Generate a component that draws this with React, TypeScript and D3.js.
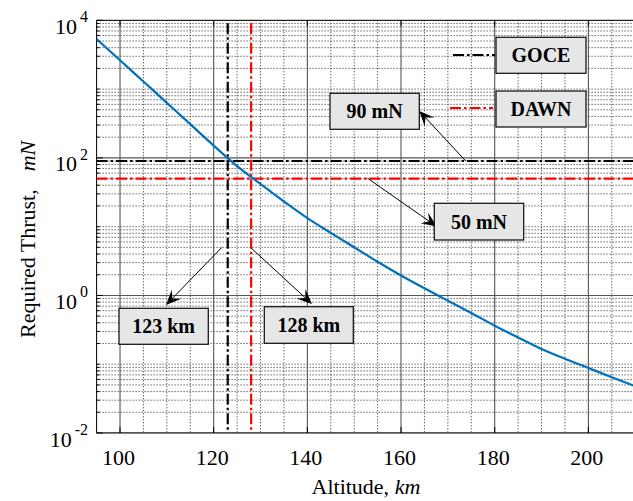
import React from "react";
import * as d3 from "d3";

// Required thrust vs. altitude
const ALTITUDE_KM = [95, 100, 105, 110, 115, 120, 125, 130, 135, 140, 145, 150, 155, 160, 165, 170, 175, 180, 185, 190, 195, 200, 205, 210];
const THRUST_MN = [5350, 2630, 1288, 631, 309, 151, 75.9, 41.7, 23.2, 13.3, 8.13, 5.01, 3.09, 1.95, 1.27, 0.841, 0.556, 0.363, 0.245, 0.167, 0.12, 0.0881, 0.0646, 0.0479];

const X_TICKS = [100, 120, 140, 160, 180, 200];
const Y_TICK_EXPONENTS = [-2, 0, 2, 4];

// Mission thrust limits and the matching altitudes
const MISSIONS = ["GOCE", "DAWN"];
const MISSION_THRUST_MN = [90, 50];
const MISSION_ALTITUDE_KM = [123, 128];
const MISSION_COLORS = ["#000000", "#ff0000"];

const W = 633;
const H = 501;
const M = { left: 96.6, top: 20.3, right: 635.2, bottom: 433 };

const FONT = "'Liberation Serif', 'Times New Roman', serif";
const BOX_FILL = "#e6e6e6";
const DASH_DOT = "11,3,2.5,3";

type Box = { x: number; y: number; w: number; h: number };

const Arrow = ({ x1, y1, x2, y2 }: { x1: number; y1: number; x2: number; y2: number }) => {
  const a = Math.atan2(y2 - y1, x2 - x1);
  const L = 15;
  const Wd = 6.5;
  const notch = 9;
  const cos = Math.cos(a);
  const sin = Math.sin(a);
  const pt = (dx: number, dy: number) => [x2 + dx * cos - dy * sin, y2 + dx * sin + dy * cos];
  const p1 = pt(-L, Wd);
  const p2 = pt(-notch, 0);
  const p3 = pt(-L, -Wd);
  return (
    <g>
      <line x1={x1} y1={y1} x2={p2[0]} y2={p2[1]} stroke="#000" strokeWidth={1} />
      <path d={`M${x2},${y2}L${p1[0]},${p1[1]}L${p2[0]},${p2[1]}L${p3[0]},${p3[1]}Z`} fill="#000" />
    </g>
  );
};

const LabelBox = ({ b, text }: { b: Box; text: string }) => (
  <g>
    <rect x={b.x} y={b.y} width={b.w} height={b.h} fill={BOX_FILL} stroke="#1a1a1a" strokeWidth={1.3} />
    <text
      x={b.x + b.w / 2}
      y={b.y + b.h / 2 + 7}
      textAnchor="middle"
      fontFamily={FONT}
      fontWeight="bold"
      fontSize={20}
      fill="#000"
    >
      {text}
    </text>
  </g>
);

export default function App() {
  const x = d3.scaleLinear().domain([95, 210]).range([M.left, M.right]);
  const y = d3.scaleLog().domain([1e-2, 1e4]).range([M.bottom, M.top]);

  const majorY = Y_TICK_EXPONENTS.map((e) => Math.pow(10, e));
  const minorY: number[] = [];
  for (let k = -2; k < 4; k++) {
    for (let n = 1; n <= 9; n++) {
      const v = n * Math.pow(10, k);
      if (!majorY.includes(v)) minorY.push(v);
    }
  }
  const minorX = d3.range(95, 211, 5).filter((v) => !X_TICKS.includes(v) && v > 95);

  const line = d3
    .line<number>()
    .x((_, i) => x(ALTITUDE_KM[i]))
    .y((d) => y(d))
    .curve(d3.curveMonotoneX);

  // label boxes and arrow ends for the annotations
  const legendBoxes: Box[] = [
    { x: 496, y: 37.3, w: 90, h: 36 },
    { x: 496, y: 91, w: 90, h: 36 },
  ];
  const legendLines = [
    { x1: 453, x2: 495, y: 55 },
    { x1: 450, x2: 493, y: 108 },
  ];
  const thrustBoxes: Box[] = [
    { x: 330, y: 93.3, w: 89.3, h: 36 },
    { x: 434.3, y: 203.3, w: 89.4, h: 36.7 },
  ];
  const thrustArrows = [
    { x1: 465.7, x2: 419.3, y2: 111 },
    { x1: 368, x2: 436.7, y2: 226.5 },
  ];
  const altBoxes: Box[] = [
    { x: 119, y: 308.3, w: 89.3, h: 36 },
    { x: 264.3, y: 306.7, w: 89, h: 36.6 },
  ];
  const altArrows = [
    { y1: 247.5, x2: 166, y2: 305 },
    { y1: 248, x2: 312, y2: 304 },
  ];

  return (
    <svg width={W} height={H} style={{ position: "absolute", left: 0, top: 0, background: "#fff" }}>
      <defs>
        <clipPath id="plot">
          <rect x={M.left} y={M.top} width={M.right - M.left} height={M.bottom - M.top} />
        </clipPath>
      </defs>

      {/* grid */}
      <g clipPath="url(#plot)">
        {minorX.map((v) => (
          <line key={"mx" + v} x1={x(v)} x2={x(v)} y1={M.top} y2={M.bottom} stroke="#222" strokeWidth={1} strokeDasharray="1,2" />
        ))}
        {minorY.map((v) => (
          <line key={"my" + v} x1={M.left} x2={M.right} y1={y(v)} y2={y(v)} stroke="#222" strokeWidth={1} strokeDasharray="1,2" />
        ))}
        {X_TICKS.map((v) => (
          <line key={"gx" + v} x1={x(v)} x2={x(v)} y1={M.top} y2={M.bottom} stroke="#555" strokeWidth={1.1} />
        ))}
        {majorY.map((v) => (
          <line key={"gy" + v} x1={M.left} x2={M.right} y1={y(v)} y2={y(v)} stroke="#555" strokeWidth={1.1} />
        ))}
      </g>

      {/* axes box and ticks */}
      <g stroke="#000" strokeWidth={1}>
        <line x1={M.left} x2={M.right} y1={M.top} y2={M.top} />
        <line x1={M.left} x2={M.right} y1={M.bottom} y2={M.bottom} />
        <line x1={M.left} x2={M.left} y1={M.top} y2={M.bottom} />
        {minorY.map((v) => (
          <line key={"ty" + v} x1={M.left} x2={M.left + 3} y1={y(v)} y2={y(v)} />
        ))}
        {majorY.map((v) => (
          <line key={"tY" + v} x1={M.left} x2={M.left + 6} y1={y(v)} y2={y(v)} />
        ))}
        {X_TICKS.map((v) => (
          <g key={"tx" + v}>
            <line x1={x(v)} x2={x(v)} y1={M.bottom} y2={M.bottom - 6} />
            <line x1={x(v)} x2={x(v)} y1={M.top} y2={M.top + 6} />
          </g>
        ))}
      </g>

      {/* mission limit lines */}
      <g clipPath="url(#plot)">
        {MISSIONS.map((m, i) => (
          <g key={m}>
            <line
              x1={M.left}
              x2={M.right}
              y1={y(MISSION_THRUST_MN[i])}
              y2={y(MISSION_THRUST_MN[i])}
              stroke={MISSION_COLORS[i]}
              strokeWidth={2.2}
              strokeDasharray={DASH_DOT}
            />
            <line
              x1={x(MISSION_ALTITUDE_KM[i])}
              x2={x(MISSION_ALTITUDE_KM[i])}
              y1={M.top + 3}
              y2={M.bottom - 3}
              stroke={MISSION_COLORS[i]}
              strokeWidth={2.2}
              strokeDasharray={DASH_DOT}
            />
          </g>
        ))}
        <path d={line(THRUST_MN) || ""} fill="none" stroke="#0072BD" strokeWidth={2.2} />
      </g>

      {/* tick labels */}
      <g fontFamily={FONT} fill="#000">
        {X_TICKS.map((v) => (
          <text key={"lx" + v} x={x(v) - 1.5} y={465} textAnchor="middle" fontSize={22}>
            {v}
          </text>
        ))}
        {Y_TICK_EXPONENTS.map((e) => (
          <text key={"ly" + e} x={88} y={y(Math.pow(10, e)) + 13.5} textAnchor="end" fontSize={22}>
            <tspan>10</tspan>
            <tspan dx={3} dy={-11.5} fontSize={16}>
              {e}
            </tspan>
          </text>
        ))}
      </g>

      {/* axis titles */}
      <text x={(M.left + M.right) / 2} y={494} textAnchor="middle" fontFamily={FONT} fontSize={22} fill="#000" style={{ whiteSpace: "pre" }}>
        <tspan>Altitude, </tspan>
        <tspan fontStyle="italic">km</tspan>
      </text>
      <text
        transform={`translate(35, 338) rotate(-90)`}
        fontFamily={FONT}
        fontSize={22}
        fill="#000"
        style={{ whiteSpace: "pre" }}
      >
        <tspan>Required Thrust,</tspan>
        <tspan dx={18} fontStyle="italic">mN</tspan>
      </text>

      {/* legend */}
      {MISSIONS.map((m, i) => (
        <g key={"lg" + m}>
          <line
            x1={legendLines[i].x1}
            x2={legendLines[i].x2}
            y1={legendLines[i].y}
            y2={legendLines[i].y}
            stroke={MISSION_COLORS[i]}
            strokeWidth={2.2}
            strokeDasharray={DASH_DOT}
          />
          <LabelBox b={legendBoxes[i]} text={m} />
        </g>
      ))}

      {/* thrust annotations */}
      {MISSIONS.map((m, i) => (
        <g key={"th" + m}>
          <Arrow x1={thrustArrows[i].x1} y1={y(MISSION_THRUST_MN[i])} x2={thrustArrows[i].x2} y2={thrustArrows[i].y2} />
          <LabelBox b={thrustBoxes[i]} text={`${MISSION_THRUST_MN[i]} mN`} />
        </g>
      ))}

      {/* altitude annotations */}
      {MISSIONS.map((m, i) => (
        <g key={"al" + m}>
          <Arrow
            x1={x(MISSION_ALTITUDE_KM[i]) + (i === 0 ? -6 : 0)}
            y1={altArrows[i].y1}
            x2={altArrows[i].x2}
            y2={altArrows[i].y2}
          />
          <LabelBox b={altBoxes[i]} text={`${MISSION_ALTITUDE_KM[i]} km`} />
        </g>
      ))}
    </svg>
  );
}
